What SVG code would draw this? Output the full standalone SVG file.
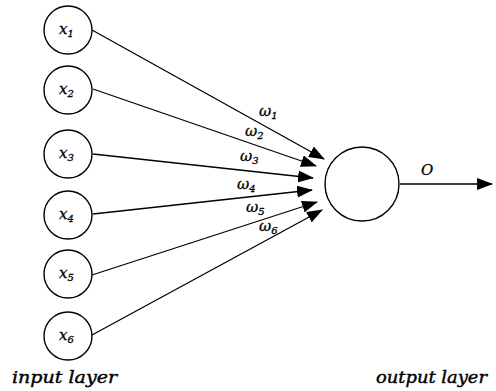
<svg xmlns="http://www.w3.org/2000/svg" width="496" height="391" viewBox="0 0 496 391">
<style>
.node{fill:#fff;stroke:#000;stroke-width:1.4}
.edge{stroke:#000;stroke-width:1.3;fill:none}
.lbl{font-family:"DejaVu Serif","Liberation Serif",serif;font-style:italic;font-size:15px;fill:#000;stroke:#000;stroke-width:0.3}
.sub{font-size:10px}
.cap{font-family:"DejaVu Serif","Liberation Serif",serif;font-style:italic;font-size:16px;fill:#000;stroke:#000;stroke-width:0.4}
</style>
<defs>
<marker id="ah" markerWidth="16" markerHeight="12" refX="15" refY="6" orient="auto" markerUnits="userSpaceOnUse">
<path d="M0,0 L16,6 L0,12 z" fill="#000"/>
</marker>
</defs>
<g id="connectors">
<line class="edge" x1="92" y1="30" x2="324" y2="159" marker-end="url(#ah)"/>
<line class="edge" x1="93" y1="89" x2="316" y2="166" marker-end="url(#ah)"/>
<line class="edge" x1="93" y1="154" x2="313" y2="178" marker-end="url(#ah)"/>
<line class="edge" x1="93" y1="214" x2="312" y2="190" marker-end="url(#ah)"/>
<line class="edge" x1="92" y1="275" x2="317" y2="202" marker-end="url(#ah)"/>
<line class="edge" x1="92" y1="335" x2="322" y2="210" marker-end="url(#ah)"/>
<line class="edge" x1="400" y1="184" x2="492" y2="184" marker-end="url(#ah)"/>
<text class="lbl" x="259" y="116">ω<tspan class="sub" dy="3">1</tspan></text>
<text class="lbl" x="245" y="136">ω<tspan class="sub" dy="3">2</tspan></text>
<text class="lbl" x="240" y="161">ω<tspan class="sub" dy="3">3</tspan></text>
<text class="lbl" x="237" y="189">ω<tspan class="sub" dy="3">4</tspan></text>
<text class="lbl" x="246" y="212">ω<tspan class="sub" dy="3">5</tspan></text>
<text class="lbl" x="259" y="231">ω<tspan class="sub" dy="3">6</tspan></text>
<text class="lbl" x="421" y="175">O</text>
</g>
<g id="x1"><circle class="node" cx="68" cy="30" r="24"/><text class="lbl" x="59" y="34">x<tspan class="sub" dy="3">1</tspan></text></g>
<g id="x2"><circle class="node" cx="68" cy="90" r="24"/><text class="lbl" x="59" y="94">x<tspan class="sub" dy="3">2</tspan></text></g>
<g id="x3"><circle class="node" cx="68" cy="154" r="24"/><text class="lbl" x="59" y="158">x<tspan class="sub" dy="3">3</tspan></text></g>
<g id="x4"><circle class="node" cx="68" cy="215" r="24"/><text class="lbl" x="59" y="219">x<tspan class="sub" dy="3">4</tspan></text></g>
<g id="x5"><circle class="node" cx="68" cy="274" r="24"/><text class="lbl" x="59" y="278">x<tspan class="sub" dy="3">5</tspan></text></g>
<g id="x6"><circle class="node" cx="68" cy="336" r="24"/><text class="lbl" x="59" y="340">x<tspan class="sub" dy="3">6</tspan></text></g>
<g id="output"><circle class="node" cx="362" cy="184" r="37"/></g>
<text class="cap" x="12" y="383" textLength="105" lengthAdjust="spacingAndGlyphs">input layer</text>
<text class="cap" x="376" y="383" textLength="111" lengthAdjust="spacingAndGlyphs">output layer</text>
</svg>
